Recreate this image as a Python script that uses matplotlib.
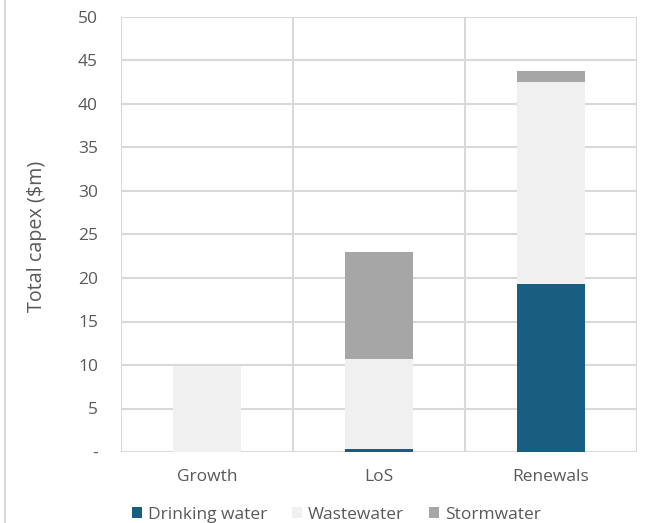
import matplotlib
matplotlib.use("Agg")
import matplotlib.pyplot as plt
from matplotlib.lines import Line2D
import numpy as np

categories = ["Growth", "LoS", "Renewals"]
drinking = [0.0, 0.35, 19.3]
wastewater = [9.9, 10.3, 23.2]
stormwater = [0.0, 12.35, 1.3]
series_names = ["Drinking water", "Wastewater", "Stormwater"]
colors = ["#175E80", "#F0F0F0", "#A6A6A6"]
yticks = [0, 5, 10, 15, 20, 25, 30, 35, 40, 45, 50]
ytick_labels = ["-"] + [str(v) for v in yticks[1:]]

plt.rcParams["font.family"] = ["Open Sans", "DejaVu Sans"]
txt = "#595959"
grid = "#D9D9D9"
fs = 12.5

fig = plt.figure(figsize=(6.48, 5.23), dpi=100)
ax = fig.add_axes([121/648, 1-452/523, (637-121)/648, (452-17)/523])

x = np.arange(len(categories))
w = 0.4
bottom = np.zeros(len(categories))
for vals, name, c in zip([drinking, wastewater, stormwater], series_names, colors):
    ax.bar(x, vals, w, bottom=bottom, color=c, label=name, zorder=3)
    bottom += np.array(vals)

ax.set_xlim(-0.5, len(categories)-0.5)
ax.set_ylim(0, 50)
ax.set_yticks(yticks)
ax.set_yticklabels(ytick_labels)
ax.set_xticks(x)
ax.set_xticklabels(categories)
ax.tick_params(length=0, colors=txt, labelsize=fs)
ax.tick_params(axis="y", pad=16.5)
ax.tick_params(axis="x", pad=12)
for yv in yticks:
    ax.axhline(yv, color=grid, lw=1.5, zorder=1)
for xv in np.arange(len(categories)+1) - 0.5:
    ax.axvline(xv, color=grid, lw=1.5, zorder=1)
for s in ax.spines.values():
    s.set_visible(False)

ax.set_ylabel("Total capex ($m)", color=txt, fontsize=14.2)
ax.yaxis.set_label_coords((47-121)/516, 0.495)

leg = fig.legend(loc="center", bbox_to_anchor=(336.5/648, 1-515/523), ncol=3, frameon=False,
                 fontsize=fs, handlelength=0.58, handleheight=0.58, handletextpad=0.35,
                 columnspacing=1.44)
for t in leg.get_texts():
    t.set_color(txt)

fig.add_artist(Line2D([4.5/648, 4.5/648], [0, 1], transform=fig.transFigure, color=grid, lw=1.5))

fig.savefig("out.png", dpi=100)
